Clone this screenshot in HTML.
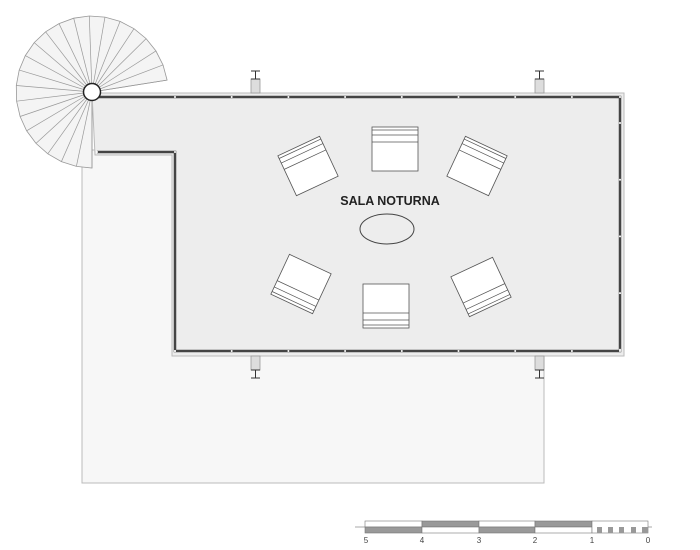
<!DOCTYPE html>
<html><head><meta charset="utf-8"><style>
html,body{margin:0;padding:0;background:#fff;width:700px;height:550px;overflow:hidden}
</style></head><body>
<svg id="s" width="700" height="550" viewBox="0 0 700 550" xmlns="http://www.w3.org/2000/svg" font-family="Liberation Sans, sans-serif">
<defs>
<g id="chair">
<rect x="-23" y="-22" width="46" height="44" fill="#fff" stroke="#555" stroke-width="0.8"/>
<line x1="-23" y1="-19" x2="23" y2="-19" stroke="#555" stroke-width="0.7"/>
<line x1="-23" y1="-14" x2="23" y2="-14" stroke="#555" stroke-width="0.7"/>
<line x1="-23" y1="-7" x2="23" y2="-7" stroke="#555" stroke-width="0.7"/>
</g>
</defs>
<rect x="82" y="150" width="462" height="333" fill="#f7f7f7" stroke="#bbb" stroke-width="1"/>
<g id="stairs"></g>
<path d="M92 93 H624 V356 H172 V155 H95 Z" fill="#ededed" stroke="#bbb" stroke-width="1"/>
<path d="M97 97 H620 V351 H175 V152 H97" fill="none" stroke="#444" stroke-width="2.5"/>
<g id="dots"></g>
<g fill="#ddd" stroke="#999" stroke-width="0.8">
<rect x="251" y="79" width="9" height="14"/><rect x="535" y="79" width="9" height="14"/>
<rect x="251" y="356" width="9" height="14"/><rect x="535" y="356" width="9" height="14"/>
</g>
<g stroke="#333" stroke-width="1">
<path d="M251 71 H260 M255.5 71 V79 M251 79 H260"/>
<path d="M535 71 H544 M539.5 71 V79 M535 79 H544"/>
<path d="M251 370 H260 M255.5 370 V378 M251 378 H260"/>
<path d="M535 370 H544 M539.5 370 V378 M535 378 H544"/>
</g>
<circle cx="92" cy="92" r="8.5" fill="#fff" stroke="#222" stroke-width="1.5"/>
<use href="#chair" transform="translate(395,149)"/>
<use href="#chair" transform="translate(308,166) rotate(-25)"/>
<use href="#chair" transform="translate(477,166) rotate(25)"/>
<use href="#chair" transform="translate(386,306) rotate(180)"/>
<use href="#chair" transform="translate(301,284) rotate(205)"/>
<use href="#chair" transform="translate(481,287) rotate(155)"/>
<text x="390" y="205" text-anchor="middle" font-size="12.5" font-weight="bold" fill="#222">SALA NOTURNA</text>
<ellipse cx="387" cy="229" rx="27" ry="15" fill="none" stroke="#444" stroke-width="1"/>
<line x1="355" y1="527" x2="652" y2="527" stroke="#555" stroke-width="0.6"/>
<g stroke="#777" stroke-width="0.6">
<rect x="365" y="521" width="57" height="6" fill="#fff"/><rect x="365" y="527" width="57" height="6" fill="#999"/>
<rect x="422" y="521" width="57" height="6" fill="#999"/><rect x="422" y="527" width="57" height="6" fill="#fff"/>
<rect x="479" y="521" width="56" height="6" fill="#fff"/><rect x="479" y="527" width="56" height="6" fill="#999"/>
<rect x="535" y="521" width="57" height="6" fill="#999"/><rect x="535" y="527" width="57" height="6" fill="#fff"/>
<rect x="592" y="521" width="56" height="12" fill="#fff"/>
</g>
<g fill="#999"><rect x="597" y="527" width="5" height="6"/><rect x="608" y="527" width="5" height="6"/><rect x="619" y="527" width="5" height="6"/><rect x="631" y="527" width="5" height="6"/><rect x="642" y="527" width="6" height="6"/></g>
<g font-size="8" fill="#444" text-anchor="middle">
<text x="366" y="543">5</text><text x="422" y="543">4</text><text x="479" y="543">3</text><text x="535" y="543">2</text><text x="592" y="543">1</text><text x="648" y="543">0</text>
</g>
</svg>
<script>
(function(){
var NS="http://www.w3.org/2000/svg";
var g=document.getElementById("stairs");
var cx=92,cy=92,R=76,n=22,a0=-9,a1=-270;
var pts=[];
for(var i=0;i<=n;i++){var a=(a0+(a1-a0)*i/n)*Math.PI/180;pts.push([cx+R*Math.cos(a),cy+R*Math.sin(a)]);}
var p=document.createElementNS(NS,"path");
var d="M"+cx+" "+cy;pts.forEach(function(q){d+=" L"+q[0].toFixed(1)+" "+q[1].toFixed(1);});d+=" Z";
p.setAttribute("d",d);p.setAttribute("fill","#f4f4f4");p.setAttribute("stroke","#999");p.setAttribute("stroke-width","0.8");g.appendChild(p);
pts.forEach(function(q){var l=document.createElementNS(NS,"line");l.setAttribute("x1",cx);l.setAttribute("y1",cy);l.setAttribute("x2",q[0]);l.setAttribute("y2",q[1]);l.setAttribute("stroke","#999");l.setAttribute("stroke-width","0.7");g.appendChild(l);});
var dg=document.getElementById("dots");
function dot(x,y){var c=document.createElementNS(NS,"circle");c.setAttribute("cx",x);c.setAttribute("cy",y);c.setAttribute("r","1");c.setAttribute("fill","#fff");dg.appendChild(c);}
for(var x=175;x<=620;x+=56.7){dot(x,97);dot(x,351);}
for(var y=123;y<351;y+=56.7){dot(620,y);}
dot(620,97);dot(620,351);dot(175,351);dot(175,152);dot(97,152);
})();
</script>
</body></html>
